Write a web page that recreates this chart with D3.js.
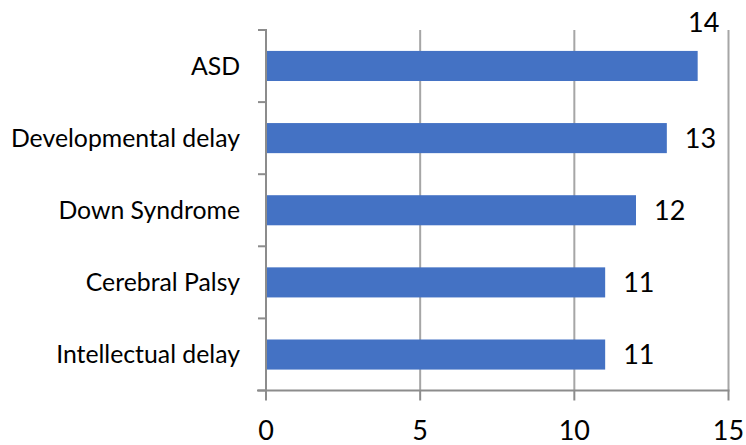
<!DOCTYPE html>
<html><head><meta charset="utf-8">
<script src="https://cdn.jsdelivr.net/npm/d3@7"></script>
<style>body{margin:0;background:#fff}svg{display:block}text{font-family:Lato,"Open Sans",sans-serif;fill:#000}</style>
</head><body>
<svg id="c" width="746" height="445"></svg>
<script>
const categories = ["ASD","Developmental delay","Down Syndrome","Cerebral Palsy","Intellectual delay"];
const values = [14,13,12,11,11];
const xTicks = [0,5,10,15];

(function(){
const svg = d3.select("#c");
const mLeft = 266, mRight = 728.5, mTop = 30, mBottom = 390.5;
const x = d3.scaleLinear().domain([0,15]).range([mLeft,mRight]);
const y = d3.scaleBand().domain(categories).range([mTop,mBottom]).paddingInner(0.583).paddingOuter(0.29);
const band = d3.scaleBand().domain(categories).range([mTop,mBottom]);
const gridColor = "#a6a6a6";

svg.append("g").selectAll("line").data(xTicks.slice(1)).join("line")
  .attr("x1",d=>x(d)).attr("x2",d=>x(d)).attr("y1",mTop).attr("y2",mBottom)
  .attr("stroke",gridColor).attr("stroke-width",2);

svg.append("g").selectAll("rect").data(categories).join("rect")
  .attr("x",x(0)).attr("y",d=>y(d)).attr("width",(d,i)=>x(values[i])-x(0)).attr("height",y.bandwidth())
  .attr("fill","#4472C4");

const gl = svg.append("g").attr("stroke","#8c8c8c").attr("stroke-width",2);
gl.append("line").attr("x1",mLeft).attr("x2",mLeft).attr("y1",mTop-1).attr("y2",mBottom+1);
const bounds = categories.map(c=>band(c)).concat([mBottom]);
gl.selectAll("line.t").data(bounds).join("line").attr("class","t")
  .attr("x1",mLeft-8).attr("x2",mLeft).attr("y1",d=>d).attr("y2",d=>d);

const gb = svg.append("g").attr("stroke","#8c8c8c").attr("stroke-width",2);
gb.append("line").attr("x1",mLeft-9).attr("x2",mRight+1).attr("y1",mBottom).attr("y2",mBottom);
gb.selectAll("line.t").data(xTicks).join("line").attr("class","t")
  .attr("x1",d=>x(d)).attr("x2",d=>x(d)).attr("y1",mBottom).attr("y2",mBottom+10);

svg.append("g").selectAll("text").data(xTicks).join("text")
  .attr("x",d=>x(d)).attr("y",440).attr("text-anchor","middle")
  .attr("font-size",27).text(d=>d);

svg.append("g").selectAll("text").data(categories).join("text")
  .attr("x",240).attr("y",d=>y(d)+y.bandwidth()/2).attr("dy","0.35em")
  .attr("text-anchor","end").attr("font-size",24.8).text(d=>d);

const maxV = d3.max(values);
svg.append("g").selectAll("text").data(categories).join("text")
  .attr("x",(d,i)=> values[i]===maxV ? x(values[i])+6 : x(values[i])+18)
  .attr("y",(d,i)=> values[i]===maxV ? 32 : y(d)+y.bandwidth()/2)
  .attr("dy",(d,i)=> values[i]===maxV ? 0 : "0.35em")
  .attr("text-anchor",(d,i)=> values[i]===maxV ? "middle" : "start")
  .attr("font-size",27).text((d,i)=>values[i]);
})();
</script>
</body></html>
